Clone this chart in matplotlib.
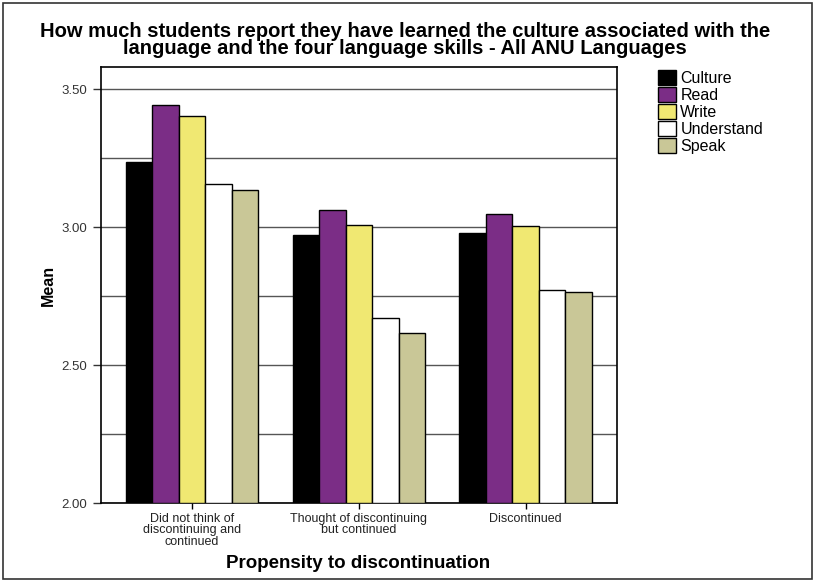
import numpy as np
import matplotlib.pyplot as plt
from matplotlib.patches import Rectangle
from matplotlib.ticker import MultipleLocator

plt.rcParams['font.family'] = ['Liberation Sans', 'DejaVu Sans']

# data
groups = ['Did not think of\ndiscontinuing and\ncontinued',
          'Thought of discontinuing\nbut continued',
          'Discontinued']
skills = ['Culture', 'Read', 'Write', 'Understand', 'Speak']
culture = [3.237, 2.970, 2.979]
read = [3.444, 3.062, 3.048]
write = [3.402, 3.007, 3.005]
understand = [3.155, 2.669, 2.772]
speak = [3.134, 2.617, 2.763]
colors = ['#000000', '#7B2D86', '#F0E872', '#FFFFFF', '#C9C797']

series = [culture, read, write, understand, speak]

fig = plt.figure(figsize=(8.15, 5.81), dpi=100)
ax = fig.add_axes([100.7/815, 1-503/581, (617-100.7)/815, (503-67)/581])

x = np.arange(len(groups))
w = 0.159
for i, vals in enumerate(series):
    ax.bar(x + (i - 2) * w, np.array(vals) - 2, width=w, bottom=2,
           color=colors[i], edgecolor='black', linewidth=1, label=skills[i], zorder=3)

ax.set_ylim(2.0, 3.58)
ax.set_xlim(-0.548, 2.548)
ax.yaxis.set_major_locator(MultipleLocator(0.5))
ax.yaxis.set_minor_locator(MultipleLocator(0.25))
ax.yaxis.set_major_formatter(plt.FuncFormatter(lambda v, p: f'{v:.2f}'))
ax.grid(axis='y', which='both', color='#555555', linewidth=1, zorder=0)
ax.tick_params(axis='y', which='major', length=6, width=1, labelsize=9.5, colors='#333333')
ax.tick_params(axis='y', which='minor', length=0)
ax.set_xticks(x)
ax.set_xticklabels(groups, fontsize=9, color='#222222', linespacing=0.95)
ax.tick_params(axis='x', length=4, width=1, pad=3)
for s in ax.spines.values():
    s.set_linewidth(1.2)

ax.set_ylabel('Mean', fontsize=11.5, fontweight='bold', labelpad=4)
fig.text(358/815, 1-563/581, 'Propensity to discontinuation', fontsize=13.5,
         fontweight='bold', ha='center', va='center')
fig.text(405/815, 1-40/581,
         'How much students report they have learned the culture associated with the\n'
         'language and the four language skills - All ANU Languages',
         fontsize=14.5, fontweight='bold', ha='center', va='center', linespacing=0.9)

ax.legend(loc='upper left', bbox_to_anchor=(650/815, 1-62/581), bbox_transform=fig.transFigure,
          frameon=False, fontsize=11.5, handlelength=1.1, handleheight=1.1,
          handletextpad=0.3, labelspacing=0.05, borderpad=0)

fig.patches.append(Rectangle((3/815, 2/581), 809/815, 576/581, transform=fig.transFigure,
                             fill=False, edgecolor='#333333', linewidth=1.2))

fig.savefig('out.png', dpi=100)
